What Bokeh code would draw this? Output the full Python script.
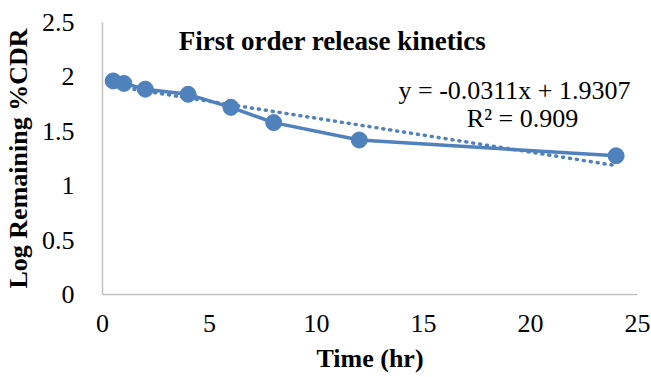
from bokeh.plotting import figure
from bokeh.models import Label, Range1d, FixedTicker
from bokeh.embed import file_html
from bokeh.resources import INLINE
import numpy as np

# Data
time_hr = [0.5, 1, 2, 4, 6, 8, 12, 24]
log_remaining = [1.963, 1.94, 1.887, 1.84, 1.72, 1.58, 1.42, 1.275]
slope = -0.0311
intercept = 1.9307
r_squared = 0.909
x_ticks = [0, 5, 10, 15, 20, 25]
y_ticks = [0, 0.5, 1, 1.5, 2, 2.5]

FONT = "Liberation Serif"
BLUE = "#4f81bd"
FS = "26px"

p = figure(width=651, height=377, output_backend="svg", toolbar_location=None,
           x_range=Range1d(0, 25), y_range=Range1d(0, 2.5),
           min_border_left=100, min_border_right=14, min_border_top=22, min_border_bottom=83)
p.outline_line_color = None
p.xgrid.grid_line_color = None
p.ygrid.grid_line_color = None

for ax in (p.xaxis, p.yaxis):
    ax.axis_line_color = "#c0c0c0"
    ax.axis_line_width = 1.5
    ax.major_tick_line_color = None
    ax.minor_tick_line_color = None
    ax.major_label_text_font = FONT
    ax.major_label_text_font_size = FS
    ax.major_label_text_color = "#000000"
    ax.axis_label_text_font = FONT
    ax.axis_label_text_font_style = "bold"
    ax.axis_label_text_font_size = FS
    ax.axis_label_text_color = "#000000"

p.xaxis.ticker = FixedTicker(ticks=x_ticks)
p.yaxis.ticker = FixedTicker(ticks=y_ticks)
p.xaxis.major_label_standoff = 14
p.yaxis.major_label_standoff = 22
p.xaxis.axis_label = "Time (hr)"
p.yaxis.axis_label = "Log Remaining %CDR"
p.xaxis.axis_label_standoff = 9
p.yaxis.axis_label_standoff = 6

# trendline
tx = np.array([time_hr[0], time_hr[-1]])
ty = slope * tx + intercept
p.line(tx, ty, line_color=BLUE, line_width=3.5, line_dash="1 6", line_cap="round")

p.line(time_hr, log_remaining, line_color=BLUE, line_width=3.5)
p.scatter(time_hr, log_remaining, size=16, fill_color=BLUE, line_color=BLUE)

p.add_layout(Label(x=230, y=254, x_units="screen", y_units="screen",
                   text="First order release kinetics", text_font=FONT,
                   text_font_style="bold", text_font_size="27px",
                   text_align="center", text_baseline="alphabetic", text_color="#000000"))
p.add_layout(Label(x=528, y=204, x_units="screen", y_units="screen",
                   text=f"y = {slope}x + {intercept}", text_font=FONT,
                   text_font_size=FS, text_align="right", text_baseline="alphabetic",
                   text_color="#000000"))
p.add_layout(Label(x=420, y=176, x_units="screen", y_units="screen",
                   text=f"R² = {r_squared}", text_font=FONT,
                   text_font_size=FS, text_align="center", text_baseline="alphabetic",
                   text_color="#000000"))

open("out.html", "w").write(file_html(p, INLINE))
